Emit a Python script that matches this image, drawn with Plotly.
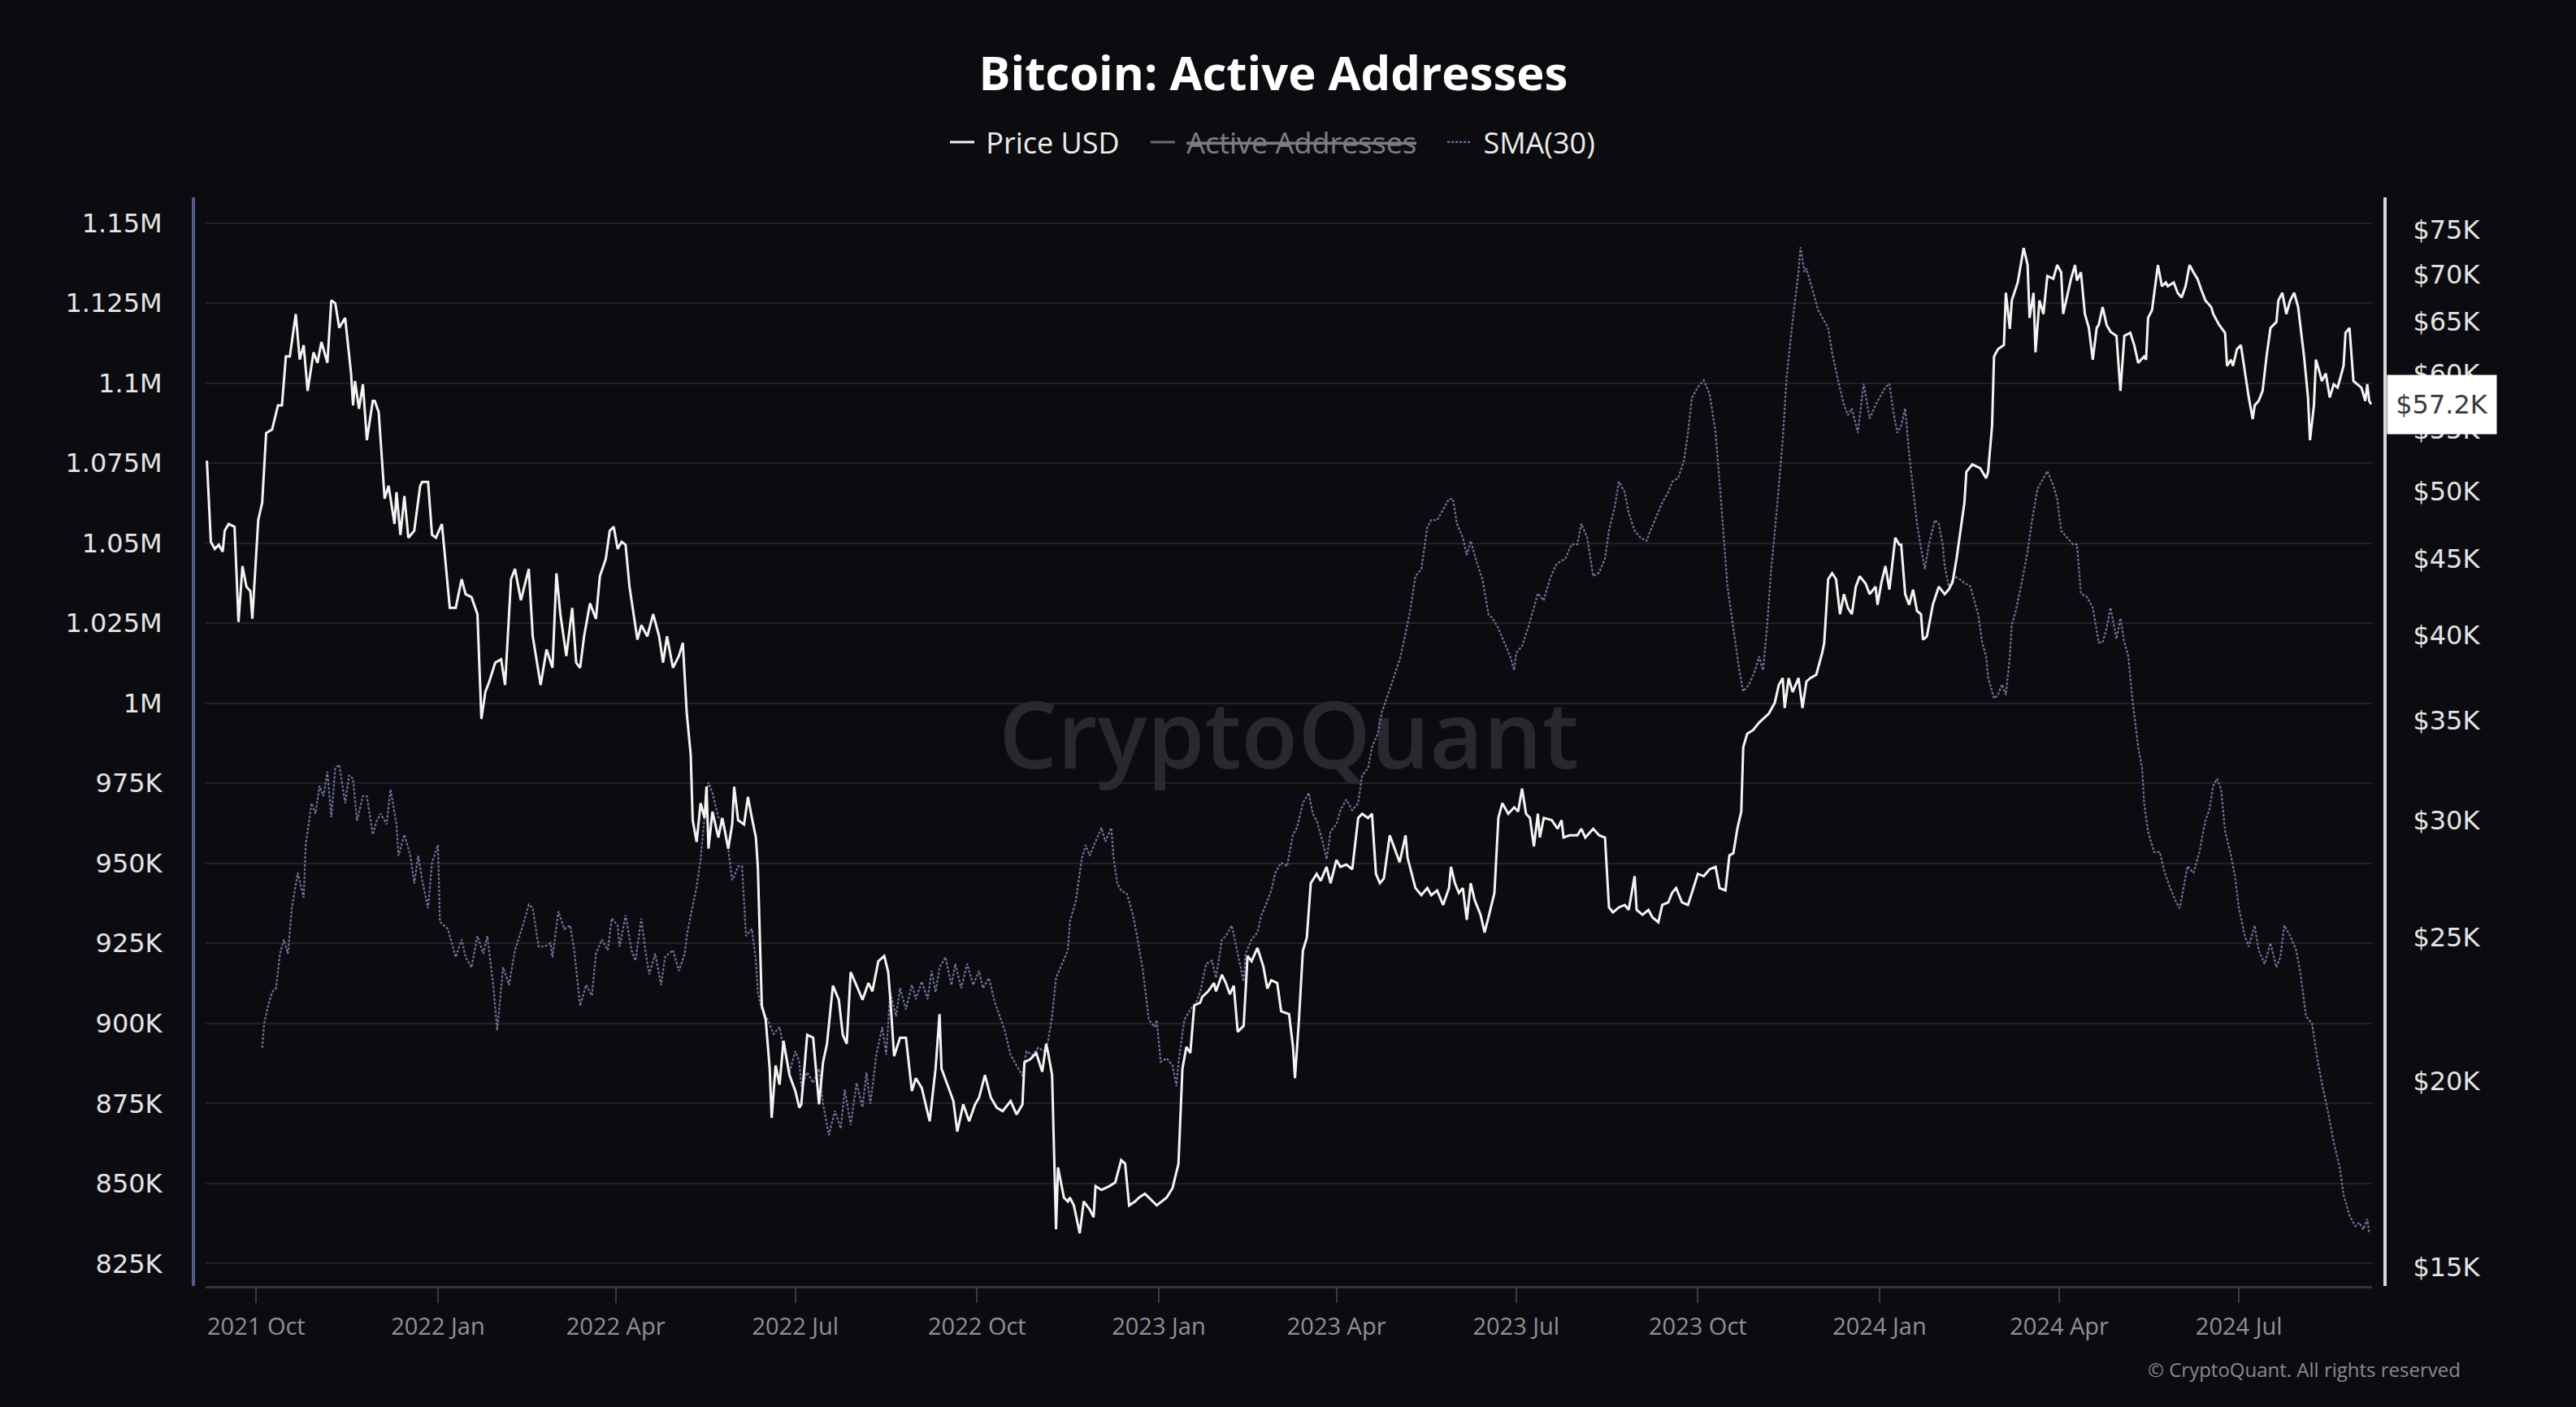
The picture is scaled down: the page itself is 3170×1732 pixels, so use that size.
import math
import pandas as pd
import plotly.graph_objects as go

# ---------------- data ----------------
START = pd.Timestamp("2021-09-06")

# Bitcoin price (thousand USD) by day offset from START
price_day = [
    0, 2, 4, 6, 8, 9, 11, 14, 16, 18, 20, 22, 23, 26, 28, 30, 33, 36, 38, 40, 42, 45, 47, 49, 51, 54, 56, 58, 61, 63,
    65, 67, 70, 73, 74, 75, 77, 79, 81, 84, 85, 87, 90, 92, 95, 96, 98, 100, 102, 105, 108, 109, 112, 114, 116, 119,
    120, 123, 126, 129, 131, 134, 137, 139, 141, 143, 146, 149, 151, 153, 154, 156, 159, 163, 165, 169, 172, 175, 177,
    179, 182, 185, 187, 189, 191, 194, 197, 199, 202, 204, 206, 208, 210, 212, 214, 218, 220, 223, 226, 229, 231, 233,
    236, 239, 241, 242, 243, 245, 246, 248, 250, 252, 253, 254, 256, 259, 261, 264,
    266, 267, 269, 272, 274, 276, 278, 279, 281, 283, 285, 286, 288, 290, 292, 295, 298, 300, 301, 304, 307, 310, 312,
    314, 317, 320, 322, 324, 326, 329, 332, 335, 337, 340, 343, 345, 346, 348, 351, 354, 357, 359, 362, 366, 369, 371,
    372, 375, 378, 380, 383, 386, 389, 391, 394, 397, 400, 403, 407, 410, 413, 414, 417, 420, 423, 425, 426, 428, 430,
    431, 434, 436, 437, 439, 442, 444, 447, 449, 450, 453, 457, 460, 463, 465, 467, 470, 472, 475, 479, 481, 486, 489,
    492, 493, 494, 496, 498, 500, 503, 504, 507, 510, 511, 514, 516, 518, 520, 522, 525, 527, 529, 532, 535, 537, 539,
    542, 544,
    548, 550, 551, 553, 555, 557, 559, 562, 564, 567, 569, 572, 574, 577, 580, 583, 585, 588, 590, 592, 594, 596, 599,
    601, 604, 607, 608, 612, 615, 618, 620, 623, 626, 629, 630, 632, 634, 636, 638, 640, 642, 645, 647, 649, 651, 652,
    654, 656, 659, 662, 664, 666, 668, 670, 672, 674, 675, 677, 681, 684, 686, 687, 690, 694, 696, 698, 702, 705, 708,
    710, 712, 715, 718, 720, 723, 724, 727, 730, 732, 735, 737, 740, 742, 744, 747, 750, 752, 755, 758, 761, 764, 766,
    769, 771, 773, 775, 777, 778, 780, 783, 786, 788, 791, 794, 796, 798, 799, 801, 803, 806, 808, 810, 812, 815, 818,
    819, 821, 823, 825, 827, 829, 831, 833, 835, 837, 840, 842, 845, 846, 848, 850, 852, 855, 857, 858, 860, 862, 864,
    866, 868, 869, 871, 874, 877, 880, 882, 884, 886, 888, 890, 891, 894, 898, 901, 902, 904, 905, 907, 910, 911, 913,
    914, 917, 919, 920, 922, 923, 925, 926, 928, 930, 932, 935, 937, 939, 940, 942, 944, 946, 947, 949, 951, 953, 955,
    957, 958, 960, 962, 964, 967, 969, 971, 974, 976, 978, 981, 982, 983, 985, 988, 990, 992, 993, 996, 998, 1000,
    1002, 1004, 1006, 1008, 1010, 1012, 1015, 1016, 1019, 1022, 1023, 1025, 1026, 1028, 1030, 1032, 1034, 1036, 1037,
    1039, 1041, 1043, 1045, 1048, 1049, 1051, 1053, 1055, 1057, 1059, 1060, 1062, 1064, 1065, 1067, 1068, 1070, 1071,
    1073, 1075, 1077, 1079, 1082, 1083, 1085, 1087, 1089, 1091, 1093, 1094, 1095, 1096,
]
price_k = [
    52.4, 46.2, 45.7, 46.0, 45.5, 47.0, 47.5, 47.3, 40.8, 44.5, 43.1, 42.8, 41.0, 47.8, 49.1, 54.7, 55.0, 57.1, 57.1,
    61.6, 61.6, 65.8, 61.3, 62.7, 58.4, 62.0, 61.0, 63.0, 61.0, 67.2, 66.9, 64.4, 65.4, 60.0, 57.1, 59.3, 56.8, 59.0,
    54.1, 57.5, 57.5, 56.5, 49.4, 50.4, 47.5, 49.9, 46.7, 49.6, 46.5, 47.0, 50.4, 50.7, 50.7, 46.7, 46.5, 47.5, 46.0,
    41.7, 41.7, 43.6, 42.6, 42.4, 41.3, 35.1, 36.6, 37.2, 38.3, 38.5, 37.0, 41.5, 43.6, 44.3, 42.2, 44.3, 39.9, 37.0,
    39.1, 38.0, 44.0, 41.3, 38.7, 41.7, 38.3, 38.0, 39.9, 42.0, 41.0, 43.8, 45.0, 47.0, 47.3, 45.7, 46.2, 46.0, 43.1,
    39.7, 40.6, 39.9, 41.3, 39.9, 38.3, 39.9, 38.0, 38.7, 39.5, 37.4, 35.4, 33.2, 30.0, 29.0, 30.8, 30.1, 31.6, 28.7,
    30.4, 29.2, 30.1, 28.7,
    29.8, 31.6, 30.0, 29.8, 31.1, 30.1, 29.2, 27.9, 22.5, 22.0, 20.4, 18.9, 20.5, 19.9, 21.3, 20.2, 19.7, 19.2, 19.3,
    21.5, 21.4, 19.3, 20.6, 21.2, 23.2, 22.7, 21.5, 21.2, 23.7, 23.2, 22.7, 23.3, 23.0, 24.1, 24.3, 23.7, 22.8, 20.8,
    21.4, 21.4, 19.7, 20.1, 19.8, 18.8, 20.4, 22.2, 20.4, 19.9, 19.4, 18.5, 19.3, 18.8, 19.3, 19.5, 20.2, 19.5, 19.2,
    19.1, 19.4, 19.0, 19.3, 20.6, 20.7, 20.9, 20.3, 21.2, 20.9, 20.2, 15.9, 17.5, 16.7, 16.6, 16.7, 16.5, 15.8, 16.6,
    16.4, 16.2, 17.0, 16.9, 17.0, 17.1, 17.7, 17.6, 16.5, 16.6, 16.7, 16.8, 16.6, 16.5, 16.7, 16.95, 17.6, 18.9, 20.4,
    21.1, 20.9, 22.5, 22.6, 22.8, 23.0, 23.3, 23.0, 23.6, 23.3, 22.9, 23.2, 21.6, 21.8, 24.3, 24.1, 24.6, 23.9, 23.1,
    23.4, 23.3, 22.3,
    22.2, 21.1, 20.1, 22.0, 24.5, 25.0, 27.2, 27.6, 27.3, 27.9, 27.2, 28.2, 27.9, 28.0, 27.8, 30.1, 30.3, 30.1, 30.3,
    27.6, 27.2, 27.4, 29.3, 28.8, 28.1, 29.3, 28.3, 27.0, 26.7, 27.0, 26.7, 26.9, 26.3, 27.0, 27.9, 27.2, 26.8, 27.0,
    25.7, 27.2, 26.5, 25.9, 25.2, 25.8, 26.4, 26.8, 30.1, 30.8, 30.3, 30.6, 30.4, 31.5, 30.3, 30.1, 28.8, 30.3, 29.2,
    30.1, 30.0, 29.6, 30.0, 29.2, 29.3, 29.3, 29.6, 29.2, 29.6, 29.3, 29.2, 26.2, 26.0, 26.2, 26.3, 26.1, 27.5, 26.1,
    25.9, 26.1, 25.8, 25.6, 26.3, 26.4, 26.8, 27.0, 26.4, 26.3, 26.8, 27.6, 27.5, 27.8, 27.9, 27.0, 26.9, 28.4, 28.5,
    29.6, 30.4, 33.6, 34.3, 34.5, 34.9, 35.1, 35.4, 36.0, 37.0, 37.4, 35.7, 37.4, 36.6, 37.4, 35.7, 37.2, 37.4, 37.6,
    38.9,
    39.5, 43.6, 44.0, 43.6, 41.3, 42.6, 41.7, 41.3, 43.1, 43.8, 43.3, 42.6, 43.1, 41.9, 43.4, 44.5, 42.9, 46.5, 46.0,
    46.0, 42.6, 41.9, 42.9, 41.5, 41.3, 39.7, 39.9, 41.9, 43.1, 42.6, 42.9, 43.4, 45.0, 47.0, 49.1, 51.5, 52.1, 51.8,
    51.0, 51.5, 55.3, 61.6, 62.3, 62.7, 68.0, 64.3, 67.2, 69.1, 71.4, 72.9, 71.0, 65.4, 68.0, 62.0, 67.2, 65.8, 69.8,
    69.5, 71.0, 70.2, 65.8, 67.5, 69.5, 71.0, 69.3, 70.2, 65.8, 64.4, 61.3, 64.4, 64.7, 66.5, 64.7, 64.0, 63.6, 58.4,
    63.6, 63.9, 62.7, 61.0, 61.6, 61.3, 65.4, 66.2, 71.0, 68.7, 69.1, 68.7, 69.1, 68.0, 67.5, 68.7, 71.0, 70.2, 69.5,
    68.3, 67.2, 66.5, 65.8, 64.7, 63.9, 60.7, 61.3, 60.7, 62.3, 62.7, 60.0, 57.8, 55.9, 57.1, 57.5, 58.4, 61.6, 64.4,
    65.0, 67.2, 68.0, 65.8, 67.2, 68.0, 66.5, 64.7, 61.6, 57.8, 54.1, 57.1, 61.3, 60.0, 59.3, 60.0, 57.8, 59.0, 58.7,
    60.7, 63.9, 64.4, 59.3, 59.0, 58.7, 57.5, 59.0, 57.5, 57.2,
]

# Active addresses SMA(30), thousands, by day offset from START
sma_day = [
    28, 29, 31, 33, 35, 37, 39, 41, 43, 46, 49, 50, 53, 55, 57, 59, 61, 63, 65, 67, 70, 72, 74, 76, 79, 81, 84, 86, 88,
    91, 93, 96, 97, 100, 103, 105, 107, 109, 112, 114, 117, 118, 122, 126, 129, 131, 134, 137, 140, 142, 145, 147, 150,
    153, 156, 160, 163, 165, 168, 171, 174, 175, 178, 181, 184, 186, 189, 192, 195, 197, 200, 203, 205, 208, 209, 212,
    215, 217, 220, 222, 224, 227, 230, 232, 236, 239, 242, 243, 245, 248, 250, 253, 254, 256, 259, 262, 264,
    266, 267, 269, 271, 273, 276, 278, 279, 281, 284, 287, 290, 292, 295, 298, 300, 301, 304, 307, 310, 312, 315, 318,
    321, 323, 326, 329, 332, 334, 336, 339, 342, 344, 346, 349, 351, 354, 357, 359, 362, 365, 367, 369, 371, 374, 377,
    379, 382, 385, 388, 391, 393, 396, 399, 402, 404, 407, 411, 413, 415, 418, 421, 424, 426, 428, 430, 433, 436, 437,
    440, 443, 445, 447, 450, 453, 455, 458, 459, 461, 463, 466, 469, 471, 474, 477, 480, 481, 483, 486, 489, 491, 492,
    495, 498, 501, 503, 506, 509, 511, 514, 516, 519, 522, 525, 526, 529, 532, 534, 537, 539,
    541, 544, 547, 550, 552, 555, 558, 560, 562, 565, 567, 569, 572, 574, 577, 580, 583, 585, 588, 590, 593, 595, 598,
    601, 604, 606, 609, 612, 615, 618, 620, 623, 626, 629, 631, 633, 636, 638, 640, 643, 646, 649, 651, 654, 657, 660,
    662, 663, 666, 669, 672, 674, 677, 680, 683, 685, 688, 691, 694, 696, 699, 702, 705, 708, 710, 713, 715, 718, 720,
    723, 726, 729, 731, 734, 737, 740, 742, 745, 748, 750, 752, 755, 758, 761, 764, 766, 768, 770, 773, 776, 778, 781,
    784, 786, 788, 790, 792, 795, 798, 800, 803, 806, 807, 809, 810, 813, 816,
    821, 823, 826, 829, 831, 833, 836, 839, 842, 845, 847, 850, 852, 854, 856, 858, 860, 862, 864, 866, 868, 870, 872,
    875, 877, 879, 880, 882, 885, 888, 890, 893, 895, 897, 899, 901, 902, 905, 907, 909, 911, 913, 914, 916, 919, 922,
    924, 927, 930, 932, 935, 937, 939, 942, 945, 947, 949, 952, 955, 958, 960, 962, 964, 967, 969, 971, 973, 975, 978,
    980, 981, 983, 986, 989, 991, 994, 997, 999, 1001, 1003, 1006, 1009, 1012, 1014, 1016, 1018, 1020, 1022, 1025,
    1027, 1029, 1032, 1034, 1037, 1039, 1042, 1045, 1048, 1050, 1052, 1055, 1058, 1060, 1063, 1066, 1069, 1071, 1074,
    1077, 1080, 1082, 1085, 1088, 1090, 1092, 1094, 1095,
]
sma_k = [
    892.4, 900.0, 905.5, 909.8, 911.0, 921.8, 926.2, 921.8, 936.0, 947.0, 939.3, 955.7, 968.8, 965.5, 974.2, 971.0,
    978.6, 964.4, 979.7, 980.8, 968.8, 977.5, 976.4, 963.3, 971.0, 971.0, 959.0, 963.3, 965.5, 962.2, 973.1, 962.2,
    952.4, 959.0, 952.4, 943.7, 952.4, 944.8, 936.0, 950.2, 955.7, 931.7, 929.5, 920.7, 926.2, 920.7, 917.5, 927.3,
    921.8, 927.3, 912.0, 897.8, 917.5, 912.0, 922.9, 930.6, 937.1, 936.0, 924.0, 924.0, 925.1, 920.7, 935.0, 929.5,
    930.6, 922.9, 905.5, 912.0, 908.7, 921.8, 926.2, 922.9, 932.8, 930.6, 924.0, 933.8, 922.9, 919.6, 932.8, 922.9,
    915.3, 921.8, 912.0, 920.7, 922.9, 916.4, 921.8, 927.3, 933.8, 942.6, 951.3, 971.0, 975.3, 972.0, 964.4, 962.2,
    954.6,
    944.8, 946.0, 949.1, 949.1, 927.3, 929.5, 919.6, 909.8, 904.4, 901.1, 896.7, 898.9, 892.4, 884.7, 891.3, 888.0,
    880.4, 884.7, 881.4, 885.8, 874.9, 865.1, 872.7, 867.2, 879.3, 868.3, 881.4, 873.8, 884.7, 874.9, 890.2, 898.9,
    890.2, 909.8, 902.2, 911.0, 904.4, 912.0, 907.6, 913.1, 907.6, 916.4, 909.8, 917.5, 920.7, 912.0, 918.6, 911.0,
    918.6, 912.0, 916.4, 911.0, 914.2, 906.6, 901.1, 897.8, 890.2, 885.8, 883.6, 891.3, 890.2, 892.4, 891.3, 894.5,
    902.2, 914.2, 918.6, 922.9, 931.7, 938.2, 951.3, 955.7, 952.4, 956.8, 961.1, 956.8, 961.1, 952.4, 943.7, 941.5,
    940.4, 933.8, 927.3, 916.4, 901.1, 898.9, 901.1, 888.0, 889.1, 886.9, 880.4, 888.0, 901.1, 904.4, 906.6, 909.8,
    918.6, 919.6, 914.2, 926.2, 927.3, 930.6, 921.8, 913.1, 921.8, 926.2, 928.4, 933.8, 938.2, 941.5,
    947.0, 950.2, 949.1, 959.0, 961.1, 968.8, 972.0, 965.5, 963.3, 956.8, 951.3, 960.0, 962.2, 966.6, 969.9, 966.6,
    968.8, 977.5, 979.7, 986.2, 990.6, 997.2, 1002.6, 1008.1, 1013.5, 1019.0, 1027.7, 1039.7, 1041.9, 1055.0, 1057.2,
    1057.2, 1060.5, 1063.8, 1063.8, 1056.1, 1051.7, 1046.3, 1050.7, 1044.1, 1038.6, 1027.7, 1026.6, 1023.4, 1019.0,
    1014.6, 1010.3, 1015.7, 1017.9, 1023.4, 1029.9, 1034.3, 1032.1, 1038.6, 1043.0, 1044.1, 1045.2, 1049.6, 1049.6,
    1056.1, 1051.7, 1039.7, 1040.8, 1045.2, 1053.9, 1061.6, 1069.2, 1065.9, 1059.4, 1053.9, 1051.7, 1050.7, 1053.9,
    1058.3, 1062.7, 1065.9, 1069.2, 1070.3, 1075.8, 1084.5, 1095.4, 1098.7, 1100.9, 1096.5, 1084.5, 1069.2, 1053.9,
    1036.5, 1023.4, 1010.3, 1003.7, 1005.9, 1010.3, 1014.6, 1010.3, 1023.4, 1040.8, 1060.5, 1082.3, 1102.0, 1119.4,
    1134.7, 1142.4, 1134.7, 1135.8, 1129.3, 1122.7,
    1117.2, 1109.6, 1100.9, 1093.2, 1090.0, 1092.1, 1084.5, 1099.8, 1088.9, 1093.2, 1095.4, 1098.7, 1099.8, 1091.1,
    1084.5, 1086.7, 1092.1, 1078.0, 1067.0, 1056.1, 1048.5, 1041.9, 1049.6, 1057.2, 1056.1, 1049.6, 1043.0, 1036.5,
    1039.7, 1038.6, 1037.6, 1036.5, 1032.1, 1027.7, 1019.0, 1014.6, 1008.1, 1001.5, 1002.6, 1005.9, 1002.6, 1014.6,
    1024.5, 1028.8, 1037.6, 1047.4, 1056.1, 1067.0, 1070.3, 1072.5, 1068.1, 1063.8, 1053.9, 1051.7, 1049.6, 1049.6,
    1034.3, 1033.2, 1029.9, 1019.0, 1019.0, 1023.4, 1029.9, 1020.1, 1026.6, 1019.0, 1014.6, 1001.5, 986.2, 979.7,
    968.8, 960.0, 953.5, 953.5, 948.0, 942.6, 938.2, 936.0, 942.6, 949.1, 947.0, 953.5, 963.3, 966.6, 974.2, 976.4,
    973.1, 960.0, 952.4, 945.9, 936.0, 927.3, 924.0, 930.6, 922.9, 918.6, 925.1, 917.5, 920.7, 930.6, 927.3, 922.9,
    916.4, 902.2, 900.0, 888.0, 881.4, 872.7, 862.9, 855.2, 846.5, 840.0, 836.7, 837.8, 835.6, 838.9, 834.5,
]

# legend entries (the Active Addresses series is toggled off in the reference)
series_names = ["Price USD", "Active Addresses", "SMA(30)"]

# axis ticks
x_tick_dates = pd.date_range("2021-10-01", "2024-07-01", freq="QS")
left_tickvals = list(range(825000, 1150001, 25000))
right_tickvals = list(range(15000, 75001, 5000))

# axis ranges
x_range = ["2021-09-05 08:00", "2024-09-06 10:00"]
left_range = [818000, 1158000]
right_range = [math.log10(14560), math.log10(78850)]


def fmt_left(v):
    return f"{v / 1e6:g}M" if v >= 1e6 else f"{v / 1e3:g}K"


NB = "\u00a0"


def legend_name(s, strike=False):
    body = f"<s>{s}</s>" if strike else s
    return NB + body + NB * 3


price_dates = START + pd.to_timedelta(price_day, unit="D")
price_usd = [p * 1000 for p in price_k]
sma_dates = START + pd.to_timedelta(sma_day, unit="D")
sma_vals = [v * 1000 for v in sma_k]

BG = "#0c0c10"
fig = go.Figure()

# watermark (below the lines)
wm_x = pd.Timestamp(x_range[0]) + (pd.Timestamp(x_range[1]) - pd.Timestamp(x_range[0])) / 2
wm_y = left_range[0] + 0.497 * (left_range[1] - left_range[0])
fig.add_trace(go.Scatter(
    x=[wm_x], y=[wm_y], mode="text", text=["CryptoQuant"],
    textfont=dict(family="Open Sans", size=114, color="#28282e", weight=600),
    textposition="middle center", hoverinfo="skip", showlegend=False, yaxis="y",
))

fig.add_trace(go.Scatter(
    x=sma_dates, y=sma_vals, name=legend_name(series_names[2]), mode="lines", yaxis="y",
    line=dict(color="#6f739f", width=2.2, dash="3px,2px"), legendrank=3,
))
# hidden series: legend entry only, no values drawn
fig.add_trace(go.Scatter(
    x=[START], y=[None], name=legend_name(series_names[1], strike=True), mode="lines", yaxis="y",
    visible="legendonly", line=dict(color="#c8c8d2", width=3), legendrank=2,
))
fig.add_trace(go.Scatter(
    x=price_dates, y=price_usd, name=legend_name(series_names[0]), mode="lines", yaxis="y2",
    line=dict(color="#f4f4f4", width=3), legendrank=1,
))

W, H = 3170, 1732
ML, MR, MT, MB = 238, 235, 243, 149
PW = W - ML - MR
fig.update_layout(
    width=W, height=H,
    margin=dict(l=ML, r=MR, t=MT, b=MB, pad=0),
    paper_bgcolor=BG, plot_bgcolor=BG,
    title=dict(
        text="Bitcoin: Active Addresses", x=0.4943, xanchor="center", y=0.9475, yanchor="middle",
        xref="container", yref="container",
        font=dict(family="Open Sans", size=58, color="#ffffff", weight="bold"),
    ),
    legend=dict(
        orientation="h", x=(1567 + 13 - ML) / PW, xanchor="center", y=(1583 - 175) / 1340, yanchor="middle",
        font=dict(family="Open Sans", size=36, color="#ececec"), bgcolor="rgba(0,0,0,0)",
        itemclick=False, itemdoubleclick=False,
    ),
    showlegend=True,
    xaxis=dict(
        domain=[(253 - ML) / PW, (2919 - ML) / PW], range=x_range, type="date",
        showgrid=False, zeroline=False,
        showline=True, linecolor="#34343a", linewidth=3,
        tickvals=x_tick_dates, tickformat="%Y %b",
        ticks="outside", ticklen=18, tickwidth=1.5, tickcolor="#3a3a40",
        tickfont=dict(family="Open Sans", size=29, color="#909096"),
        ticklabelstandoff=4,
    ),
    yaxis=dict(
        anchor="free", position=0, range=left_range, side="left",
        tickvals=left_tickvals, ticktext=[fmt_left(v) for v in left_tickvals],
        showgrid=True, gridcolor="#202026", gridwidth=1.5, zeroline=False,
        showline=True, linecolor="#565b8e", linewidth=4, ticks="",
        tickfont=dict(family="DejaVu Sans", size=32, color="#e4e4e4"),
        ticklabelstandoff=30,
    ),
    yaxis2=dict(
        anchor="free", position=1, overlaying="y", side="right", type="log", range=right_range,
        tickvals=right_tickvals, ticktext=[f"${v / 1e3:g}K" for v in right_tickvals],
        showgrid=False, zeroline=False,
        showline=True, linecolor="#d8d8d8", linewidth=4, ticks="",
        tickfont=dict(family="DejaVu Sans", size=32, color="#e4e4e4"),
        ticklabelstandoff=26,
    ),
    hovermode=False,
)

last_price = price_usd[-1]
fig.add_annotation(
    xref="paper", x=1, xanchor="left", xshift=2,
    yref="y2", y=math.log10(last_price), yanchor="middle",
    text=f"${last_price / 1000:.1f}K", showarrow=False,
    bgcolor="#ffffff", borderpad=0, width=134, height=72,
    font=dict(family="DejaVu Sans", size=32, color="#3a3a3a"),
)
fig.add_annotation(
    xref="paper", x=(3030 - ML) / PW, xanchor="right",
    yref="paper", y=(1583 - 1685) / 1340, yanchor="middle",
    text="© CryptoQuant. All rights reserved", showarrow=False,
    font=dict(family="Open Sans", size=24, color="#8a8a8e"),
)

fig.write_html("out.html")
